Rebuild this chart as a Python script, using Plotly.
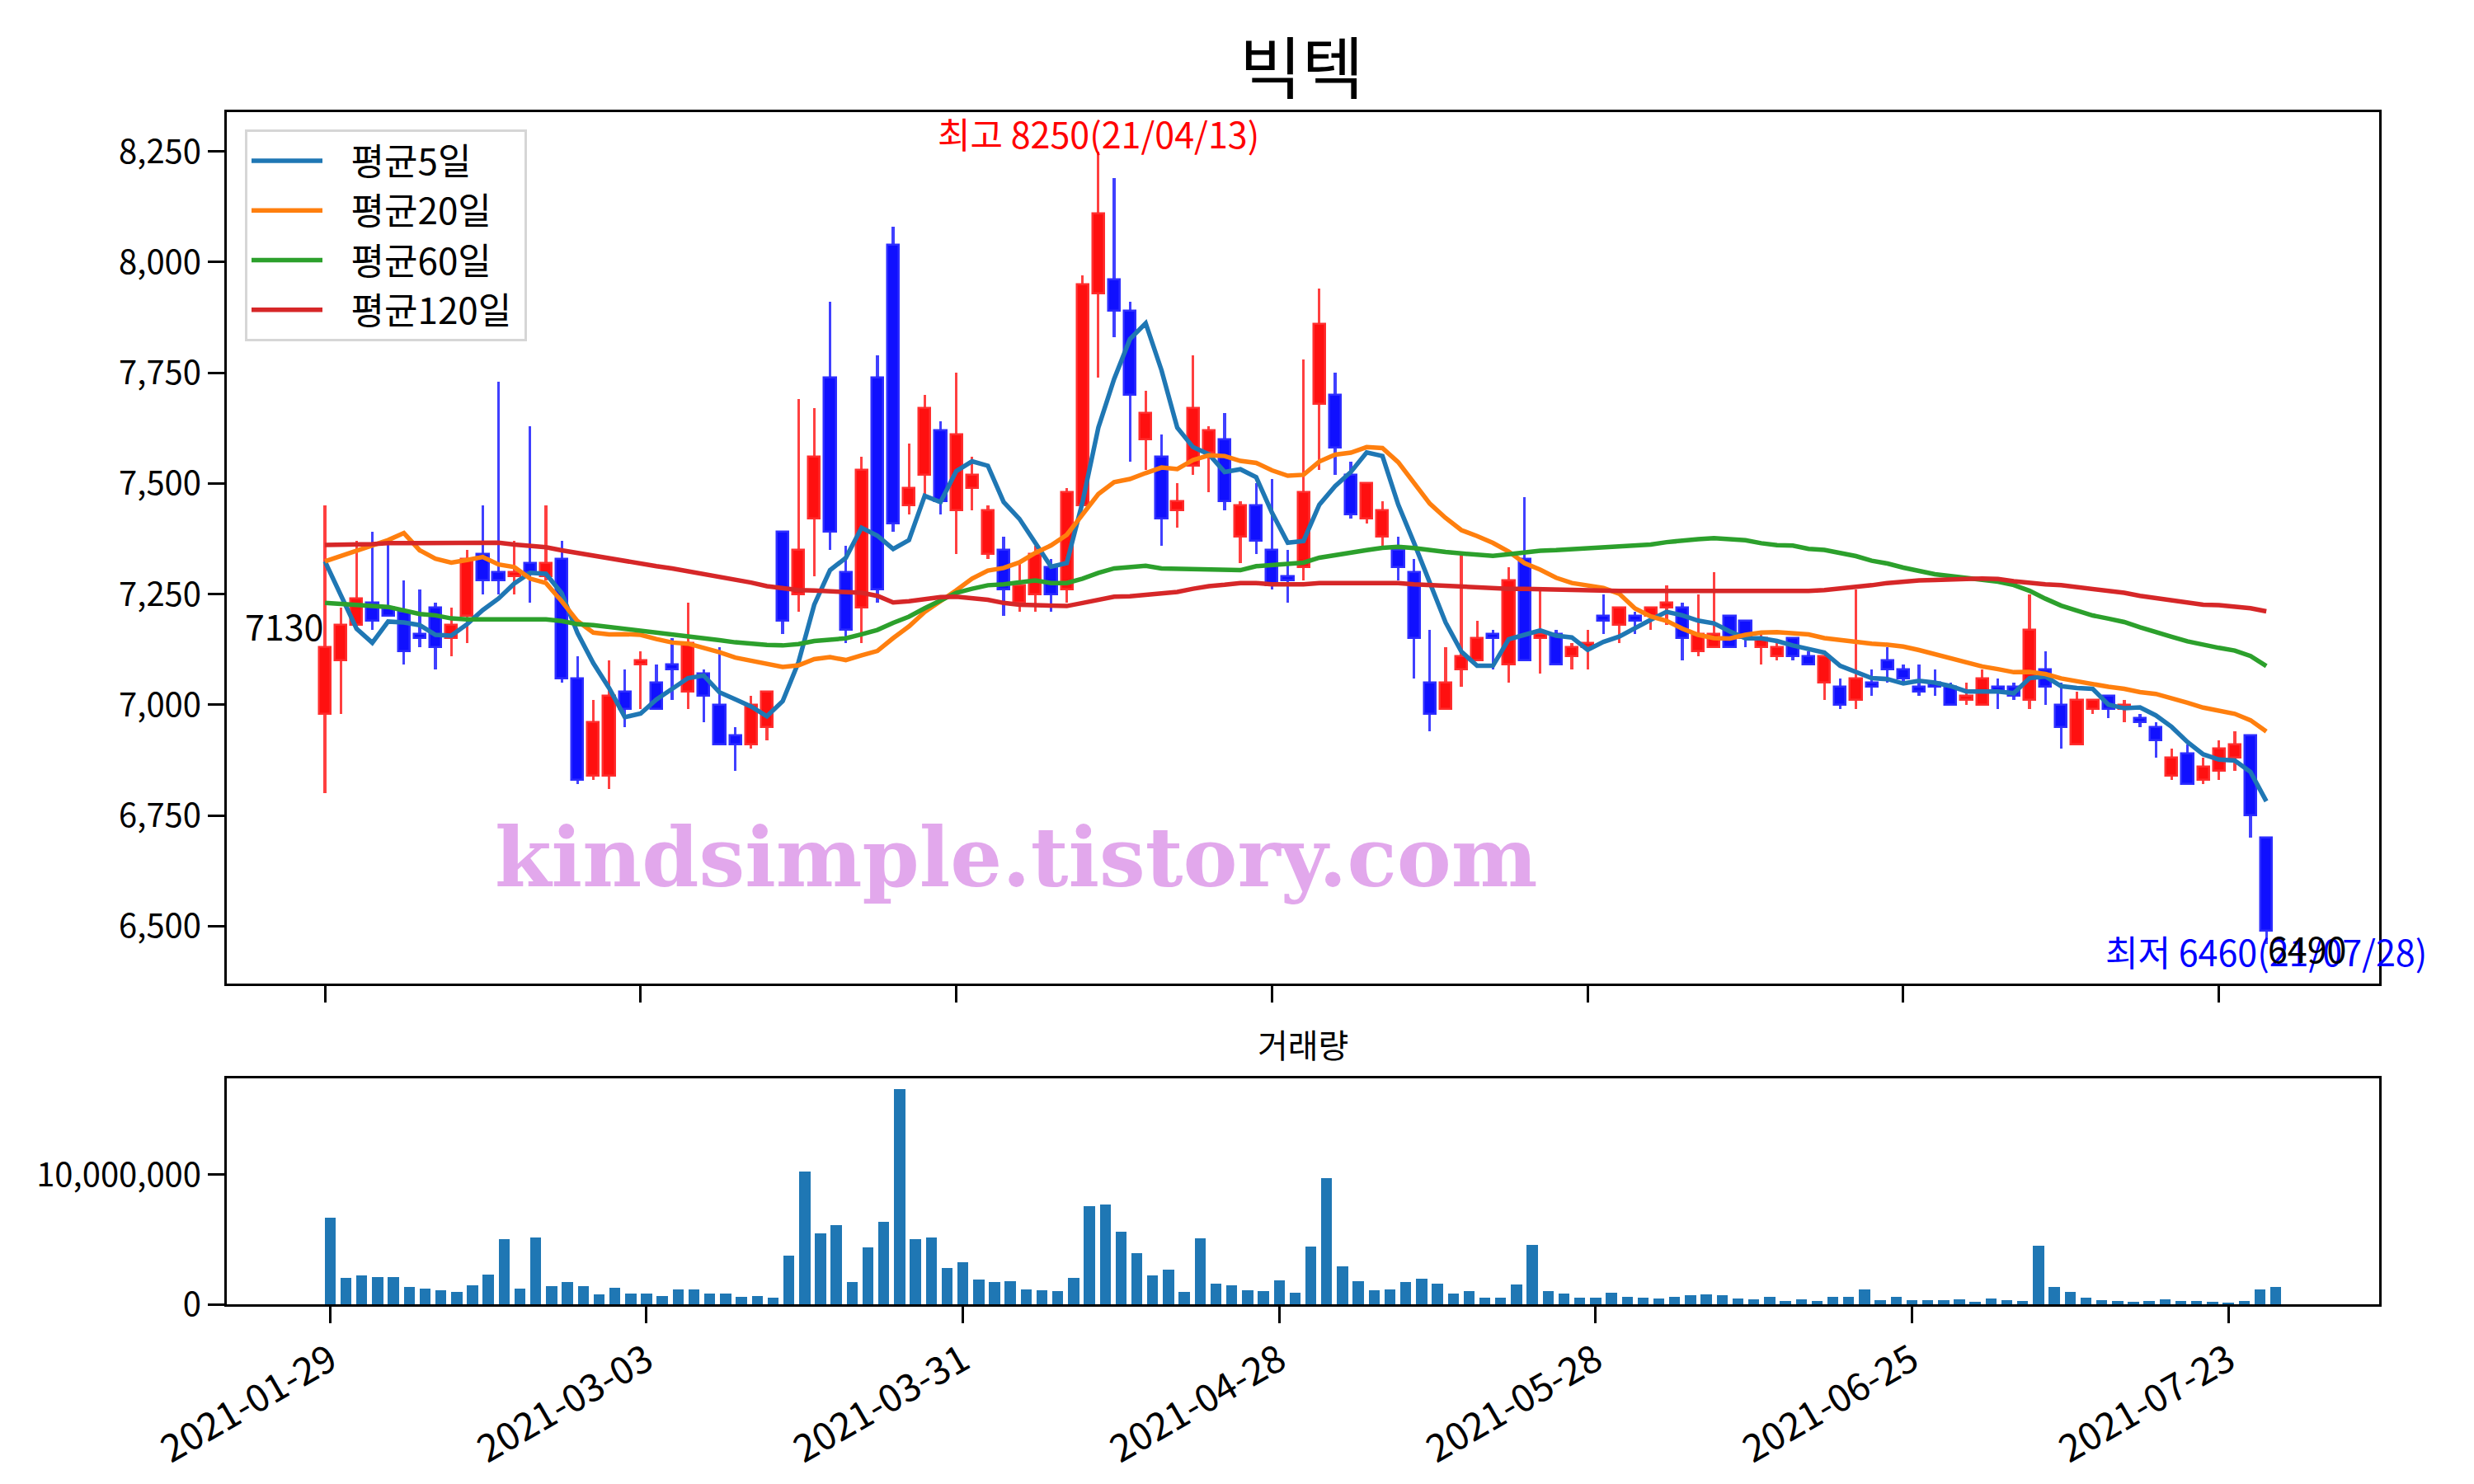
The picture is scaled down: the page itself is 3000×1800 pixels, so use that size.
import plotly.graph_objects as go
import pandas as pd

# ---------------- data ----------------
dates = [
    "2021-01-29",
    "2021-02-01", "2021-02-02", "2021-02-03", "2021-02-04", "2021-02-05",
    "2021-02-08", "2021-02-09", "2021-02-10",
    "2021-02-15", "2021-02-16", "2021-02-17", "2021-02-18", "2021-02-19",
    "2021-02-22", "2021-02-23", "2021-02-24", "2021-02-25", "2021-02-26",
    "2021-03-02", "2021-03-03", "2021-03-04", "2021-03-05",
    "2021-03-08", "2021-03-09", "2021-03-10", "2021-03-11", "2021-03-12",
    "2021-03-15", "2021-03-16", "2021-03-17", "2021-03-18", "2021-03-19",
    "2021-03-22", "2021-03-23", "2021-03-24", "2021-03-25", "2021-03-26",
    "2021-03-29", "2021-03-30", "2021-03-31", "2021-04-01", "2021-04-02",
    "2021-04-05", "2021-04-06", "2021-04-07", "2021-04-08", "2021-04-09",
    "2021-04-12", "2021-04-13", "2021-04-14", "2021-04-15", "2021-04-16",
    "2021-04-19", "2021-04-20", "2021-04-21", "2021-04-22", "2021-04-23",
    "2021-04-26", "2021-04-27", "2021-04-28", "2021-04-29", "2021-04-30",
    "2021-05-03", "2021-05-04", "2021-05-06", "2021-05-07",
    "2021-05-10", "2021-05-11", "2021-05-12", "2021-05-13", "2021-05-14",
    "2021-05-17", "2021-05-18", "2021-05-20", "2021-05-21",
    "2021-05-24", "2021-05-25", "2021-05-26", "2021-05-27", "2021-05-28",
    "2021-05-31", "2021-06-01", "2021-06-02", "2021-06-03", "2021-06-04",
    "2021-06-07", "2021-06-08", "2021-06-09", "2021-06-10", "2021-06-11",
    "2021-06-14", "2021-06-15", "2021-06-16", "2021-06-17", "2021-06-18",
    "2021-06-21", "2021-06-22", "2021-06-23", "2021-06-24", "2021-06-25",
    "2021-06-28", "2021-06-29", "2021-06-30", "2021-07-01", "2021-07-02",
    "2021-07-05", "2021-07-06", "2021-07-07", "2021-07-08", "2021-07-09",
    "2021-07-12", "2021-07-13", "2021-07-14", "2021-07-15", "2021-07-16",
    "2021-07-19", "2021-07-20", "2021-07-21", "2021-07-22", "2021-07-23",
    "2021-07-26", "2021-07-27", "2021-07-28",
]

opens = [6980, 7100, 7180, 7230, 7220, 7210, 7160, 7220, 7150, 7200,
         7340, 7300, 7290, 7320, 7290, 7330, 7060, 6840, 6840, 7030,
         7090, 7050, 7090, 7030, 7070, 7000, 6930, 6910, 6950, 7390,
         7250, 7420, 7740, 7300, 7220, 7740, 8040, 7450, 7520, 7620,
         7440, 7490, 7340, 7350, 7230, 7250, 7310, 7260, 7450, 7930,
         7960, 7890, 7600, 7560, 7440, 7540, 7570, 7600, 7380, 7450,
         7350, 7290, 7310, 7680, 7700, 7520, 7420, 7380, 7350, 7300,
         7050, 6990, 7080, 7100, 7160, 7090, 7330, 7150, 7160, 7110,
         7130, 7200, 7180, 7200, 7200, 7220, 7220, 7120, 7130, 7200,
         7190, 7130, 7110, 7150, 7110, 7050, 7040, 7010, 7050, 7100,
         7080, 7040, 7050, 7040, 7010, 7000, 7040, 7040, 7010, 7080,
         7000, 6910, 6990, 7020, 6990, 6970, 6950, 6840, 6890, 6830,
         6850, 6880, 6930, 6700]
highs = [7450, 7220, 7370, 7390, 7370, 7280, 7260, 7230, 7220, 7350,
         7450, 7730, 7370, 7630, 7450, 7370, 7110, 7010, 7100, 7080,
         7120, 7090, 7150, 7230, 7080, 7130, 6950, 7020, 7030, 7390,
         7690, 7670, 7910, 7360, 7560, 7790, 8080, 7590, 7700, 7640,
         7750, 7560, 7450, 7380, 7320, 7360, 7330, 7490, 7970, 8250,
         8190, 7910, 7710, 7610, 7500, 7790, 7630, 7660, 7460, 7500,
         7510, 7350, 7780, 7940, 7750, 7550, 7500, 7460, 7380, 7330,
         7170, 7130, 7340, 7190, 7170, 7310, 7470, 7260, 7170, 7140,
         7170, 7250, 7220, 7210, 7220, 7270, 7230, 7250, 7300, 7200,
         7190, 7160, 7140, 7150, 7120, 7110, 7060, 7260, 7080, 7130,
         7090, 7090, 7080, 7050, 7050, 7080, 7060, 7050, 7250, 7120,
         7050, 7030, 7010, 7020, 7010, 6980, 6960, 6900, 6910, 6880,
         6920, 6940, 6930, 6700]
lows = [6800, 6980, 7180, 7170, 7200, 7090, 7130, 7080, 7110, 7140,
        7250, 7250, 7250, 7230, 7280, 7050, 6820, 6830, 6810, 6950,
        6990, 6990, 7010, 6990, 6960, 6910, 6850, 6900, 6920, 7160,
        7210, 7290, 7350, 7140, 7140, 7230, 7390, 7430, 7470, 7430,
        7340, 7440, 7330, 7200, 7210, 7210, 7210, 7230, 7450, 7740,
        7830, 7550, 7530, 7360, 7400, 7520, 7480, 7440, 7320, 7340,
        7260, 7230, 7280, 7530, 7520, 7420, 7410, 7360, 7280, 7060,
        6940, 6990, 7040, 7100, 7080, 7050, 7100, 7070, 7090, 7080,
        7080, 7160, 7140, 7160, 7170, 7180, 7100, 7110, 7130, 7130,
        7130, 7090, 7100, 7100, 7090, 7010, 6990, 6990, 7020, 7050,
        7050, 7020, 7020, 7000, 7000, 7000, 6990, 7010, 6990, 7000,
        6900, 6910, 6980, 6970, 6960, 6950, 6880, 6830, 6820, 6820,
        6830, 6850, 6700, 6460]
closes = [7130, 7180, 7240, 7190, 7200, 7120, 7150, 7130, 7180, 7330,
          7280, 7280, 7300, 7300, 7320, 7060, 6830, 6960, 7020, 6990,
          7100, 6990, 7080, 7140, 7020, 6910, 6910, 7000, 7030, 7190,
          7350, 7560, 7390, 7170, 7530, 7260, 7410, 7490, 7670, 7460,
          7610, 7520, 7440, 7260, 7270, 7340, 7250, 7480, 7950, 8110,
          7890, 7700, 7660, 7420, 7460, 7670, 7620, 7460, 7450, 7370,
          7270, 7280, 7480, 7860, 7580, 7430, 7500, 7440, 7310, 7150,
          6980, 7050, 7110, 7150, 7150, 7280, 7100, 7160, 7090, 7130,
          7140, 7190, 7220, 7190, 7220, 7230, 7150, 7160, 7160, 7130,
          7150, 7150, 7130, 7110, 7090, 7110, 7000, 7060, 7040, 7080,
          7060, 7030, 7040, 7000, 7020, 7060, 7030, 7020, 7170, 7040,
          6950, 7010, 7010, 6990, 7000, 6960, 6920, 6880, 6820, 6860,
          6900, 6910, 6750, 6490]
volumes = [6690000, 2040000, 2230000, 2100000, 2100000, 1340000, 1210000, 1080000, 960000, 1460000,
           2290000, 5030000, 1210000, 5160000, 1400000, 1720000, 1400000, 760000, 1270000, 830000,
           830000, 640000, 1150000, 1150000, 830000, 830000, 570000, 640000, 510000, 3760000,
           10250000, 5480000, 6110000, 1720000, 4390000, 6370000, 16600000, 5030000, 5160000, 2800000,
           3250000, 1910000, 1720000, 1780000, 1150000, 1080000, 1020000, 2040000, 7580000, 7710000,
           5610000, 3950000, 2230000, 2680000, 960000, 5100000, 1590000, 1460000, 1080000, 1020000,
           1850000, 890000, 4460000, 9750000, 2930000, 1780000, 1080000, 1150000, 1720000, 1970000,
           1590000, 830000, 1020000, 510000, 510000, 1530000, 4590000, 1020000, 830000, 510000,
           510000, 890000, 570000, 510000, 450000, 570000, 700000, 760000, 700000, 450000,
           380000, 570000, 250000, 380000, 250000, 570000, 570000, 1150000, 320000, 570000,
           320000, 320000, 320000, 380000, 190000, 450000, 320000, 250000, 4520000, 1340000,
           960000, 510000, 320000, 250000, 190000, 250000, 380000, 250000, 250000, 190000,
           130000, 250000, 1150000, 1340000]

# moving-average values before enough in-window history exists
ma5_head = [7324, 7246, 7172, 7140]
ma20_head = [7324, 7336, 7349, 7362, 7372, 7388, 7349, 7330, 7321, 7327,
             7334, 7317, 7311, 7285, 7275, 7234, 7189, 7163, 7159]
ma60_head = [7230, 7227, 7225, 7223, 7221, 7212, 7205, 7202, 7195, 7193,
             7193, 7191, 7191, 7191, 7193, 7189, 7182, 7180, 7176, 7172,
             7167, 7163, 7159, 7154, 7150, 7146, 7141, 7137, 7135, 7134,
             7137, 7144, 7148, 7150, 7159, 7169, 7185, 7199, 7218, 7236,
             7253, 7262, 7270, 7272, 7276, 7281, 7275, 7275, 7285, 7298,
             7308, 7311, 7314, 7308, 7307, 7307, 7307, 7304, 7304]
ma120 = [7361, 7361, 7362, 7363, 7365, 7365, 7366, 7365, 7365, 7366,
         7366, 7366, 7362, 7359, 7356, 7349, 7343, 7336, 7330, 7323,
         7318, 7313, 7308, 7302, 7295, 7289, 7282, 7276, 7268, 7263,
         7259, 7258, 7257, 7254, 7253, 7246, 7231, 7234, 7239, 7243,
         7244, 7241, 7237, 7230, 7226, 7225, 7223, 7223, 7230, 7237,
         7244, 7245, 7249, 7252, 7255, 7262, 7268, 7271, 7275, 7275,
         7272, 7272, 7272, 7275, 7275, 7275, 7276, 7276, 7275, 7272,
         7270, 7268, 7266, 7264, 7263, 7262, 7262, 7261, 7259, 7258,
         7257, 7257, 7257, 7257, 7257, 7257, 7257, 7255, 7255, 7255,
         7255, 7255, 7255, 7257, 7257, 7259, 7262, 7266, 7270, 7275,
         7279, 7281, 7282, 7284, 7284, 7285, 7284, 7279, 7275, 7272,
         7270, 7266, 7262, 7257, 7253, 7246, 7241, 7237, 7231, 7226,
         7225, 7222, 7218, 7211]

title_text = "빅텍"
volume_title = "거래량"
legend_names = ["평균5일", "평균20일", "평균60일", "평균120일"]
watermark = "kindsimple.tistory.com"

# ---------------- derived ----------------
n = len(dates)
idx = list(range(n))
s = pd.Series(closes, dtype=float)


def ma(window, head):
    r = s.rolling(window).mean().tolist()
    for k, v in enumerate(head):
        r[k] = v
    return r


ma5 = ma(5, ma5_head)
ma20 = ma(20, ma20_head)
ma60 = ma(60, ma60_head)

tick_idx = list(range(0, n, 20))
tick_lab = [dates[i] for i in tick_idx]

up = [i for i in idx if closes[i] >= opens[i]]
dn = [i for i in idx if closes[i] < opens[i]]

FONT = "Noto Sans CJK KR"
PAGE_W, PAGE_H = 3000, 1800
OFF = 8                      # default body margin of the html page
W, H = PAGE_W - OFF, PAGE_H - OFF


def px(x):                   # page x pixel -> paper fraction
    return (x - OFF) / W


def py(y):                   # page y pixel -> paper fraction
    return 1 - (y - OFF) / H


RED_BODY, RED_EDGE, RED_WICK = "rgb(255,16,16)", "rgb(255,45,45)", "rgb(255,64,64)"
BLUE_BODY, BLUE_EDGE, BLUE_WICK = "rgb(16,16,255)", "rgb(45,45,255)", "rgb(64,64,255)"

fig = go.Figure()

# wicks (thin bars)
for sel, col in ((up, RED_WICK), (dn, BLUE_WICK)):
    fig.add_trace(go.Bar(
        x=sel, base=[lows[i] for i in sel], y=[highs[i] - lows[i] for i in sel],
        width=0.17, marker=dict(color=col, line=dict(width=0)),
        showlegend=False, hoverinfo="skip", xaxis="x", yaxis="y"))
# bodies
fig.add_trace(go.Bar(
    x=up, base=[opens[i] for i in up], y=[closes[i] - opens[i] for i in up],
    width=0.74, marker=dict(color=RED_BODY, line=dict(color=RED_EDGE, width=2.5)),
    showlegend=False, xaxis="x", yaxis="y"))
fig.add_trace(go.Bar(
    x=dn, base=[closes[i] for i in dn], y=[opens[i] - closes[i] for i in dn],
    width=0.74, marker=dict(color=BLUE_BODY, line=dict(color=BLUE_EDGE, width=2.5)),
    showlegend=False, xaxis="x", yaxis="y"))

# moving averages
for name, vals, col in zip(legend_names, (ma5, ma20, ma60, ma120),
                           ("#1f77b4", "#ff7f0e", "#2ca02c", "#d62728")):
    fig.add_trace(go.Scatter(x=idx, y=vals, mode="lines",
                             name="\u00a0\u00a0\u00a0" + name + "\u00a0",
                             line=dict(color=col, width=5.5), xaxis="x", yaxis="y"))

# volume
fig.add_trace(go.Bar(x=idx, y=volumes, width=0.7, marker=dict(color="#1f77b4", line=dict(width=0)),
                     showlegend=False, xaxis="x2", yaxis="y2"))

# ---------------- layout ----------------
axis_common = dict(showline=True, linecolor="black", linewidth=3, mirror=True,
                   ticks="outside", ticklen=20, tickwidth=3, tickcolor="black",
                   showgrid=False, zeroline=False, automargin=False)
tick_font = dict(family=FONT, size=40, color="black")

fig.update_layout(
    width=W, height=H, autosize=False,
    margin=dict(l=0, r=0, t=0, b=0, pad=0, autoexpand=False),
    paper_bgcolor="white", plot_bgcolor="white",
    barmode="overlay", bargap=0,
    font=dict(family=FONT, color="black"),
    xaxis=dict(domain=[px(275), px(2885)], range=[-6.22, 130.15], anchor="y",
               tickmode="array", tickvals=tick_idx, showticklabels=False,
               tickfont=tick_font, **axis_common),
    yaxis=dict(domain=[py(1193), py(136)], range=[6370, 8339], anchor="x",
               tickmode="array", tickvals=list(range(6500, 8251, 250)), tickformat=",",
               tickfont=tick_font, **axis_common),
    xaxis2=dict(domain=[px(275), px(2885)], range=[-6.535, 129.535], anchor="y2",
                tickmode="array", tickvals=tick_idx, ticktext=tick_lab, tickangle=-30,
                tickfont=dict(family=FONT, size=46, color="black"), **axis_common),
    yaxis2=dict(domain=[py(1582), py(1308)], range=[0, 17430000], anchor="x2",
                tickmode="array", tickvals=[0, 10000000], tickformat=",",
                tickfont=tick_font, **axis_common),
    legend=dict(x=px(297), y=py(157), xanchor="left", yanchor="top",
                bgcolor="white", bordercolor="#d6d6d6", borderwidth=3,
                font=dict(family=FONT, size=44, color="black"), itemwidth=86),
)

hi_i = max(idx, key=lambda i: highs[i])
lo_i = min(idx, key=lambda i: lows[i])


def short(d):
    return d[2:].replace("-", "/")


annotations = [
    dict(text=title_text, x=px(1578), y=py(77), xref="paper", yref="paper",
         showarrow=False, font=dict(family=FONT, size=82, color="black"),
         xanchor="center", yanchor="middle"),
    dict(text=volume_title, x=px(1580), y=py(1266), xref="paper", yref="paper",
         showarrow=False, font=dict(family=FONT, size=40, color="black"),
         xanchor="center", yanchor="middle"),
    dict(text=f"최고 {highs[hi_i]}({short(dates[hi_i])})", x=hi_i, y=highs[hi_i],
         xref="x", yref="y", showarrow=False, xanchor="center", yanchor="bottom",
         yshift=-10, font=dict(family=FONT, size=43, color="red")),
    dict(text=f"최저 {lows[lo_i]}({short(dates[lo_i])})", x=lo_i, y=lows[lo_i],
         xref="x", yref="y", showarrow=False, xanchor="center", yanchor="top",
         yshift=25, font=dict(family=FONT, size=43, color="blue")),
    dict(text=str(closes[-1]), x=n - 1, y=closes[-1], xref="x", yref="y",
         showarrow=False, xanchor="left", yanchor="top", yshift=13,
         font=dict(family=FONT, size=43, color="black")),
    dict(text=str(closes[0]), x=0, y=closes[0], xref="x", yref="y",
         showarrow=False, xanchor="right", yanchor="bottom", yshift=-6,
         font=dict(family=FONT, size=43, color="black")),
    dict(text=f"<b>{watermark}</b>", x=px(1232), y=py(1040), xref="paper", yref="paper",
         showarrow=False, xanchor="center", yanchor="middle",
         font=dict(family="DejaVu Serif", size=99, color="rgb(226,168,236)")),
]
fig.update_layout(annotations=annotations)

fig.write_html("out.html")
